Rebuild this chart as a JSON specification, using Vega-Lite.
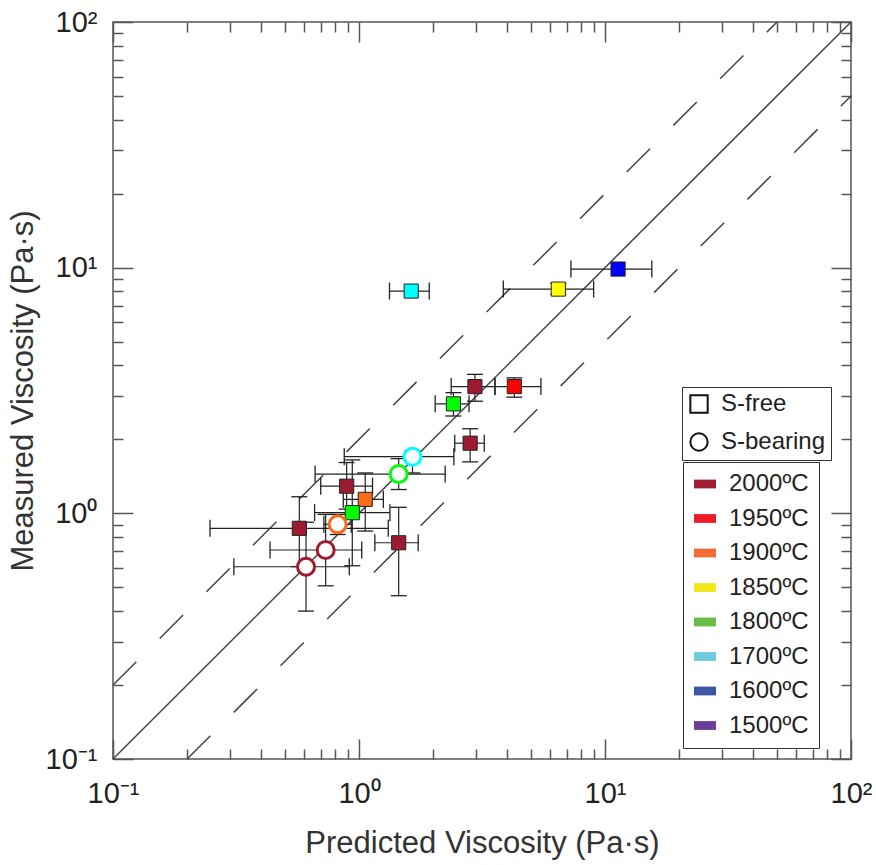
{
  "$schema": "https://vega.github.io/schema/vega-lite/v6.json",
  "width": 738,
  "height": 737,
  "autosize": {"type": "none"},
  "padding": {"left": 113, "top": 22, "right": 25, "bottom": 106},
  "background": "white",
  "config": {
    "font": "Liberation Sans",
    "view": {"stroke": "#555555", "strokeWidth": 1.5},
    "axis": {"grid": false, "domain": false, "tickColor": "#555555", "tickWidth": 1.5, "labelColor": "#222222", "titleColor": "#333333", "titleFontWeight": "normal", "labelFont": "Liberation Sans", "titleFont": "Liberation Sans"}
  },
  "datasets": {
    "lines": [
      {"g": "one", "px": 0.1, "py": 0.1}, {"g": "one", "px": 100, "py": 100},
      {"g": "up", "px": 0.1, "py": 0.2}, {"g": "up", "px": 50, "py": 100},
      {"g": "dn", "px": 0.2, "py": 0.1}, {"g": "dn", "px": 100, "py": 50}
    ],
    "pts": [
      {"type": "S-free", "temp": "1700ºC", "x": 1.63, "y": 8.03, "xlo": 1.33, "xhi": 1.93, "ylo": null, "yhi": null},
      {"type": "S-free", "temp": "1850ºC", "x": 6.46, "y": 8.18, "xlo": 3.86, "xhi": 8.99, "ylo": 7.78, "yhi": 8.63},
      {"type": "S-free", "temp": "1600ºC", "x": 11.3, "y": 9.87, "xlo": 7.27, "xhi": 15.5, "ylo": null, "yhi": null},
      {"type": "S-free", "temp": "1950ºC", "x": 4.28, "y": 3.28, "xlo": 3.57, "xhi": 5.49, "ylo": 2.97, "yhi": 3.56},
      {"type": "S-free", "temp": "2000ºC", "x": 2.96, "y": 3.28, "xlo": 2.37, "xhi": 3.57, "ylo": 2.86, "yhi": 3.68},
      {"type": "S-free", "temp": "1800ºC", "x": 2.42, "y": 2.79, "xlo": 2.04, "xhi": 2.8, "ylo": 2.49, "yhi": 3.1},
      {"type": "S-free", "temp": "2000ºC", "x": 2.83, "y": 1.93, "xlo": 2.45, "xhi": 3.23, "ylo": 1.62, "yhi": 2.21},
      {"type": "S-free", "temp": "2000ºC", "x": 0.891, "y": 1.29, "xlo": 0.699, "xhi": 1.135, "ylo": 1.04, "yhi": 1.61},
      {"type": "S-free", "temp": "1900ºC", "x": 1.06, "y": 1.14, "xlo": 0.863, "xhi": 1.256, "ylo": 0.847, "yhi": 1.46},
      {"type": "S-free", "temp": "1800ºC", "x": 0.939, "y": 1.006, "xlo": 0.66, "xhi": 1.336, "ylo": 0.612, "yhi": 1.65},
      {"type": "S-free", "temp": "2000ºC", "x": 0.572, "y": 0.869, "xlo": 0.248, "xhi": 1.315, "ylo": 0.607, "yhi": 1.168},
      {"type": "S-free", "temp": "2000ºC", "x": 1.45, "y": 0.759, "xlo": 1.16, "xhi": 1.74, "ylo": 0.462, "yhi": 1.058},
      {"type": "S-bearing", "temp": "1700ºC", "x": 1.65, "y": 1.7, "xlo": 0.871, "xhi": 2.43, "ylo": 1.46, "yhi": 1.8},
      {"type": "S-bearing", "temp": "1800ºC", "x": 1.45, "y": 1.445, "xlo": 0.663, "xhi": 2.24, "ylo": 1.25, "yhi": 1.67},
      {"type": "S-bearing", "temp": "1900ºC", "x": 0.819, "y": 0.902, "xlo": 0.72, "xhi": 0.93, "ylo": 0.82, "yhi": 0.99},
      {"type": "S-bearing", "temp": "2000ºC", "x": 0.732, "y": 0.709, "xlo": 0.435, "xhi": 1.026, "ylo": 0.507, "yhi": 0.99},
      {"type": "S-bearing", "temp": "2000ºC", "x": 0.609, "y": 0.606, "xlo": 0.31, "xhi": 0.913, "ylo": 0.4, "yhi": 0.92}
    ]
  },
  "resolve": {"axis": {"x": "independent", "y": "independent"}},
  "layer": [
    {
      "data": {"name": "lines"},
      "transform": [{"filter": "datum.g == 'one'"}],
      "mark": {"type": "line", "color": "#444444", "strokeWidth": 1.5},
      "encoding": {
        "x": {"field": "px", "type": "quantitative", "scale": {"type": "log", "domain": [0.1, 100], "nice": false},
              "axis": {"orient": "bottom", "values": [0.1, 1, 10, 100], "labels": false, "title": null, "tickSize": -20}},
        "y": {"field": "py", "type": "quantitative", "scale": {"type": "log", "domain": [0.1, 100], "nice": false},
              "axis": {"orient": "left", "values": [0.1, 1, 10, 100], "labels": false, "title": null, "tickSize": -20}}
      }
    },
    {
      "data": {"name": "lines"},
      "transform": [{"filter": "datum.g != 'one'"}],
      "mark": {"type": "line", "color": "#444444", "strokeWidth": 1.5, "strokeDash": [33, 33]},
      "encoding": {
        "detail": {"field": "g"},
        "x": {"field": "px", "type": "quantitative", "scale": {"type": "log", "domain": [0.1, 100], "nice": false},
              "axis": {"orient": "bottom", "values": [0.2, 0.3, 0.4, 0.5, 0.6, 0.7, 0.8, 0.9, 2, 3, 4, 5, 6, 7, 8, 9, 20, 30, 40, 50, 60, 70, 80, 90], "labels": false, "title": null, "tickSize": -10}},
        "y": {"field": "py", "type": "quantitative", "scale": {"type": "log", "domain": [0.1, 100], "nice": false},
              "axis": {"orient": "left", "values": [0.2, 0.3, 0.4, 0.5, 0.6, 0.7, 0.8, 0.9, 2, 3, 4, 5, 6, 7, 8, 9, 20, 30, 40, 50, 60, 70, 80, 90], "labels": false, "title": null, "tickSize": -10}}
      }
    },
    {
      "data": {"name": "pts"},
      "mark": {"type": "rule", "color": "#222222", "strokeWidth": 1.2},
      "encoding": {
        "x": {"field": "xlo", "type": "quantitative", "scale": {"type": "log", "domain": [0.1, 100], "nice": false},
              "axis": {"orient": "top", "values": [0.1, 1, 10, 100], "labels": false, "title": null, "tickSize": -20}},
        "x2": {"field": "xhi"},
        "y": {"field": "y", "type": "quantitative", "scale": {"type": "log", "domain": [0.1, 100], "nice": false},
              "axis": {"orient": "right", "values": [0.1, 1, 10, 100], "labels": false, "title": null, "tickSize": -20}}
      }
    },
    {
      "data": {"name": "pts"},
      "transform": [{"fold": ["xlo", "xhi"], "as": ["k", "xc"]}],
      "mark": {"type": "tick", "orient": "vertical", "color": "#222222", "thickness": 1.3, "size": 17, "opacity": 1},
      "encoding": {
        "x": {"field": "xc", "type": "quantitative", "scale": {"type": "log", "domain": [0.1, 100], "nice": false},
              "axis": {"orient": "top", "values": [0.2, 0.3, 0.4, 0.5, 0.6, 0.7, 0.8, 0.9, 2, 3, 4, 5, 6, 7, 8, 9, 20, 30, 40, 50, 60, 70, 80, 90], "labels": false, "title": null, "tickSize": -10}},
        "y": {"field": "y", "type": "quantitative", "scale": {"type": "log", "domain": [0.1, 100], "nice": false},
              "axis": {"orient": "right", "values": [0.2, 0.3, 0.4, 0.5, 0.6, 0.7, 0.8, 0.9, 2, 3, 4, 5, 6, 7, 8, 9, 20, 30, 40, 50, 60, 70, 80, 90], "labels": false, "title": null, "tickSize": -10}}
      }
    },
    {
      "data": {"name": "pts"},
      "transform": [{"filter": "datum.ylo != null"}],
      "mark": {"type": "rule", "color": "#222222", "strokeWidth": 1.2},
      "encoding": {
        "x": {"field": "x", "type": "quantitative", "scale": {"type": "log", "domain": [0.1, 100], "nice": false}, "axis": null},
        "y": {"field": "ylo", "type": "quantitative", "scale": {"type": "log", "domain": [0.1, 100], "nice": false}, "axis": null},
        "y2": {"field": "yhi"}
      }
    },
    {
      "data": {"name": "pts"},
      "transform": [{"filter": "datum.ylo != null"}, {"fold": ["ylo", "yhi"], "as": ["k", "yc"]}],
      "mark": {"type": "tick", "orient": "horizontal", "color": "#222222", "thickness": 1.3, "size": 16, "opacity": 1},
      "encoding": {
        "x": {"field": "x", "type": "quantitative", "scale": {"type": "log", "domain": [0.1, 100], "nice": false}, "axis": null},
        "y": {"field": "yc", "type": "quantitative", "scale": {"type": "log", "domain": [0.1, 100], "nice": false}, "axis": null}
      }
    },
    {
      "data": {"name": "pts"},
      "mark": {"type": "point", "filled": true, "opacity": 0},
      "encoding": {
        "x": {"field": "x", "type": "quantitative", "scale": {"type": "log", "domain": [0.1, 100], "nice": false}, "axis": null},
        "y": {"field": "y", "type": "quantitative", "scale": {"type": "log", "domain": [0.1, 100], "nice": false}, "axis": null},
        "color": {"field": "temp", "type": "nominal",
                  "scale": {"domain": ["2000ºC", "1950ºC", "1900ºC", "1850ºC", "1800ºC", "1700ºC", "1600ºC", "1500ºC"],
                            "range": ["#A31D32", "#EE1D25", "#F26A36", "#F3E71C", "#69BC45", "#6DCBDC", "#3B56A5", "#6B3F98"]},
                  "legend": {"orient": "none", "legendX": 570, "legendY": 440, "title": null, "padding": 10,
                             "strokeColor": "#333333", "fillColor": "white", "symbolOpacity": 1,
                             "labelFontSize": 24, "labelFont": "Liberation Sans", "labelColor": "#222222",
                             "symbolType": "M-1,-0.4H1V0.4H-1Z", "symbolSize": 484, "labelOffset": 12, "rowPadding": 10.5,
                             "symbolStrokeWidth": 0,
                             "encode": {"legend": {"strokeWidth": {"value": 1.5}}}}}
      }
    },
    {
      "data": {"name": "pts"},
      "transform": [{"filter": "datum.type == 'S-free'"}],
      "mark": {"type": "point", "filled": true, "stroke": "#222222", "strokeWidth": 1, "size": 200, "opacity": 1},
      "encoding": {
        "x": {"field": "x", "type": "quantitative", "scale": {"type": "log", "domain": [0.1, 100], "nice": false},
              "axis": {"orient": "bottom", "values": [0.1, 1, 10, 100], "ticks": false, "labelFlush": false, "labelOverlap": false,
                       "labelExpr": "datum.value == 0.1 ? '10⁻¹' : datum.value == 1 ? '10⁰' : datum.value == 10 ? '10¹' : '10²'",
                       "labelFontSize": 29, "labelPadding": 20, "title": "Predicted Viscosity (Pa·s)", "titleFontSize": 31, "titlePadding": 20}},
        "y": {"field": "y", "type": "quantitative", "scale": {"type": "log", "domain": [0.1, 100], "nice": false},
              "axis": {"orient": "left", "values": [0.1, 1, 10, 100], "ticks": false, "labelFlush": false, "labelOverlap": false,
                       "labelExpr": "datum.value == 0.1 ? '10⁻¹' : datum.value == 1 ? '10⁰' : datum.value == 10 ? '10¹' : '10²'",
                       "labelFontSize": 29, "labelPadding": 16, "title": "Measured Viscosity (Pa·s)", "titleFontSize": 31, "titlePadding": 6}},
        "fill": {"field": "temp", "type": "nominal", "legend": null,
                 "scale": {"domain": ["2000ºC", "1950ºC", "1900ºC", "1850ºC", "1800ºC", "1700ºC", "1600ºC", "1500ºC"],
                           "range": ["#9E1A2E", "#FF0000", "#F96B1B", "#FFFF00", "#00FF00", "#00FFFF", "#0000FF", "#7030A0"]}},
        "shape": {"field": "type", "type": "nominal",
                  "scale": {"domain": ["S-free", "S-bearing"], "range": ["square", "circle"]},
                  "legend": {"orient": "none", "legendX": 569, "legendY": 365, "title": null, "padding": 5,
                             "strokeColor": "#333333", "fillColor": "white",
                             "labelFontSize": 24, "labelFont": "Liberation Sans", "labelColor": "#222222",
                             "symbolSize": 300, "labelOffset": 10, "rowPadding": 12,
                             "symbolFillColor": "white", "symbolStrokeColor": "#111111", "symbolStrokeWidth": 2,
                             "encode": {"legend": {"strokeWidth": {"value": 1.5}}}}}
      }
    },
    {
      "data": {"name": "pts"},
      "transform": [{"filter": "datum.type == 'S-bearing'"}],
      "mark": {"type": "point", "filled": false, "fill": "white", "fillOpacity": 1, "strokeWidth": 3, "size": 290, "opacity": 1},
      "encoding": {
        "x": {"field": "x", "type": "quantitative", "scale": {"type": "log", "domain": [0.1, 100], "nice": false}, "axis": null},
        "y": {"field": "y", "type": "quantitative", "scale": {"type": "log", "domain": [0.1, 100], "nice": false}, "axis": null},
        "stroke": {"field": "temp", "type": "nominal", "legend": null,
                   "scale": {"domain": ["2000ºC", "1950ºC", "1900ºC", "1850ºC", "1800ºC", "1700ºC", "1600ºC", "1500ºC"],
                             "range": ["#9E1A2E", "#FF0000", "#F96B1B", "#FFFF00", "#00FF00", "#00FFFF", "#0000FF", "#7030A0"]}},
        "shape": {"field": "type", "type": "nominal", "legend": null,
                  "scale": {"domain": ["S-free", "S-bearing"], "range": ["square", "circle"]}}
      }
    }
  ]
}
